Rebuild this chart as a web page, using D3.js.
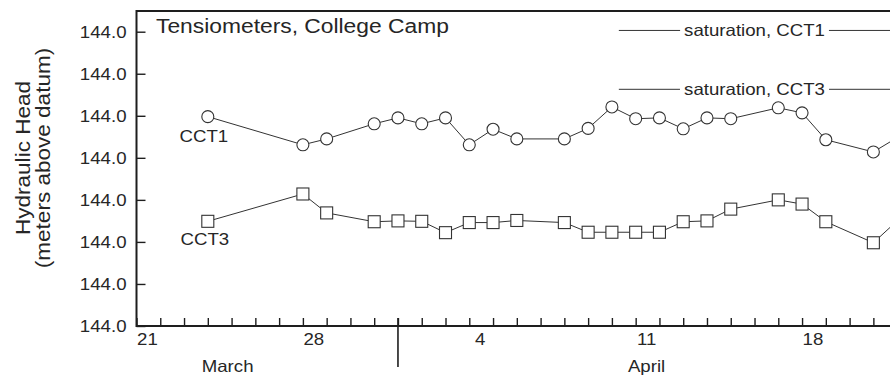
<!DOCTYPE html>
<html>
<head>
<meta charset="utf-8">
<script src="https://cdn.jsdelivr.net/npm/d3@7"></script>
<style>
  html, body { margin: 0; padding: 0; background: #fff; }
  svg { display: block; font-family: "Liberation Sans", Arial, Helvetica, sans-serif; }
</style>
</head>
<body>
<svg id="chart" width="890" height="375"></svg>
<script>
// Reading dates (month-day) for both tensiometers
const dates = ["03-24","03-28","03-29","03-31","04-01","04-02","04-03","04-04","04-05","04-06",
               "04-08","04-09","04-10","04-11","04-12","04-13","04-14","04-15","04-17","04-18",
               "04-19","04-21","04-22"];
// Hydraulic head, meters above datum
const cct1 = [144.0198,144.0131,144.0145,144.0181,144.0195,144.0181,144.0195,144.0131,144.0168,144.0145,
              144.0145,144.0170,144.0221,144.0193,144.0195,144.0169,144.0195,144.0193,144.0219,144.0207,
              144.0143,144.0114,144.0148];
const cct3 = [143.9949,144.0014,143.9969,143.9948,143.9950,143.9949,143.9922,143.9946,143.9946,143.9951,
              143.9946,143.9923,143.9923,143.9923,143.9923,143.9948,143.9950,143.9978,144.0000,143.9990,
              143.9948,143.9898,143.9950];
const seriesNames = ["CCT1","CCT3"];

// Saturation head for each tensiometer
const saturationNames = ["saturation, CCT1","saturation, CCT3"];
const saturationLevels = [144.0403, 144.0263];
const saturationFrom = "04-10 07:00";
const saturationLabelAt = "04-16 00:00";

// Axes
const yTicks = [143.97,143.98,143.99,144.00,144.01,144.02,144.03,144.04];
const dayFirst = "03-21", dayLast = "04-22";
const dayLabelDates = ["03-21","03-28","04-04","04-11","04-18"];
const dayLabels = ["21","28","4","11","18"];
const months = ["March","April"];
const monthLabelAt = ["03-24 20:00","04-11 11:00"];
const monthBreak = "04-01";
const title = "Tensiometers, College Camp";
const yTitle = ["Hydraulic Head","(meters above datum)"];

const parseDay = d3.utcParse("%m-%d");
const parseTime = d3.utcParse("%m-%d %H:%M");

const W = 890, H = 375;
const axisX = 136.5, axisY = 326, frameTop = 11, topTick = 31.7, dayPx = 23.77;
const SX = 1.13;          // horizontal glyph stretch used for the labels
const FS = 16.5;          // label font size
const ink = "#1e1e1e";
const textInk = "#262626";

const svg = d3.select("#chart");
svg.append("rect").attr("width", W).attr("height", H).attr("fill", "#fff");

const x = d3.scaleUtc()
  .domain([parseDay(dayFirst), parseDay(dayLast)])
  .range([axisX, axisX + 32 * dayPx]);
const y = d3.scaleLinear()
  .domain([yTicks[0], yTicks[yTicks.length - 1]])
  .range([axisY, topTick]);

function stretched(g, px, py, size, anchor, str, sx = SX) {
  return g.append("text")
    .attr("transform", `translate(${px},${py}) scale(${sx},1)`)
    .attr("font-size", size)
    .attr("text-anchor", anchor)
    .attr("fill", textInk)
    .text(str);
}

// Left axis: inward ticks
const yAxis = svg.append("g")
  .attr("transform", `translate(${axisX},0)`)
  .call(d3.axisLeft(y).tickValues(yTicks).tickSize(-9).tickSizeOuter(0)
        .tickPadding(10).tickFormat(d3.format(".1f")));
yAxis.select(".domain").remove();
yAxis.selectAll(".tick line").attr("stroke", ink).attr("stroke-width", 1.4);
yAxis.selectAll(".tick text")
  .attr("x", null).attr("dy", null)
  .attr("transform", `translate(-10,5.5) scale(${SX},1)`)
  .attr("font-size", FS).attr("font-family", null).attr("fill", textInk);

// Bottom axis: one tick per day, pointing up
const xAxis = svg.append("g")
  .attr("transform", `translate(0,${axisY})`)
  .call(d3.axisBottom(x).ticks(d3.utcDay.every(1)).tickSize(-8).tickSizeOuter(0).tickFormat(""));
xAxis.select(".domain").remove();
xAxis.selectAll(".tick line").attr("stroke", ink).attr("stroke-width", 1.4);

// Day labels, centred on their day
dayLabelDates.forEach((d, i) => {
  const t = d3.utcHour.offset(parseDay(d), 11);
  stretched(svg, x(t), 345, FS, "middle", dayLabels[i]);
});
// Month labels and the month divider
months.forEach((m, i) => stretched(svg, x(parseTime(monthLabelAt[i])), 371.5, FS, "middle", m));
svg.append("line")
  .attr("x1", x(parseDay(monthBreak))).attr("x2", x(parseDay(monthBreak)))
  .attr("y1", axisY - 8).attr("y2", 367)
  .attr("stroke", ink).attr("stroke-width", 1.6);

// Frame: left axis, bottom axis, top edge
const frame = d3.path();
frame.moveTo(W + 10, frameTop);
frame.lineTo(axisX, frameTop);
frame.lineTo(axisX, axisY);
frame.lineTo(W + 10, axisY);
svg.append("path").attr("d", frame.toString())
  .attr("fill", "none").attr("stroke", ink).attr("stroke-width", 2);

// Axis title
yTitle.forEach((t, i) => {
  svg.append("text")
    .attr("transform", `translate(${30 + i * 20},158) rotate(-90) scale(1.1,1)`)
    .attr("font-size", 20.5).attr("text-anchor", "middle").attr("fill", textInk)
    .text(t);
});

// Title
stretched(svg, 156, 32.8, 19.5, "start", title, 1.17);

// Saturation levels with inline labels
saturationLevels.forEach((lev, i) => {
  const yy = y(lev);
  const cx = x(parseTime(saturationLabelAt));
  const label = stretched(svg, cx, yy + 6, FS, "middle", saturationNames[i]);
  const w = label.node().getBBox().width * SX;
  const x0 = x(parseTime(saturationFrom));
  svg.append("line").attr("x1", x0).attr("x2", cx - w / 2 - 4)
    .attr("y1", yy).attr("y2", yy).attr("stroke", "#333").attr("stroke-width", 1);
  svg.append("line").attr("x1", cx + w / 2 + 4).attr("x2", W + 10)
    .attr("y1", yy).attr("y2", yy).attr("stroke", "#333").attr("stroke-width", 1);
});

// Series
const rows = dates.map((d, i) => ({ t: parseDay(d), a: cct1[i], b: cct3[i] }));
const plot = svg.append("g");

const line1 = d3.line().x(d => x(d.t)).y(d => y(d.a));
const line3 = d3.line().x(d => x(d.t)).y(d => y(d.b));
plot.append("path").attr("d", line1(rows)).attr("fill", "none").attr("stroke", "#333").attr("stroke-width", 1);
plot.append("path").attr("d", line3(rows)).attr("fill", "none").attr("stroke", "#333").attr("stroke-width", 1);

plot.selectAll("circle.cct1").data(rows).join("circle")
  .attr("class", "cct1")
  .attr("cx", d => x(d.t)).attr("cy", d => y(d.a)).attr("r", 6)
  .attr("fill", "#fff").attr("stroke", "#333").attr("stroke-width", 1.1);

plot.selectAll("rect.cct3").data(rows).join("rect")
  .attr("class", "cct3")
  .attr("x", d => x(d.t) - 6).attr("y", d => y(d.b) - 6)
  .attr("width", 12).attr("height", 12)
  .attr("fill", "#fff").attr("stroke", "#333").attr("stroke-width", 1.1);

// Series names under the first reading
stretched(svg, x(rows[0].t) - 4, y(rows[0].a) + 25.5, FS, "middle", seriesNames[0]);
stretched(svg, x(rows[0].t) - 3, y(rows[0].b) + 24, FS, "middle", seriesNames[1]);
</script>
</body>
</html>
